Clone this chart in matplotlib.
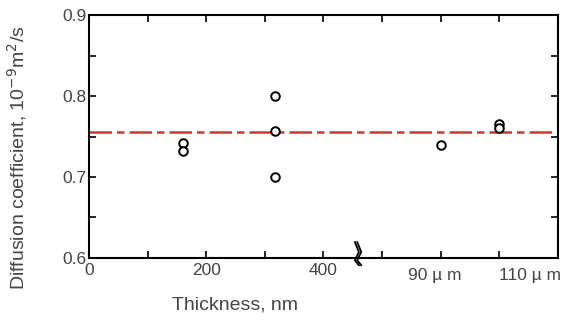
import numpy as np
import matplotlib
matplotlib.use("Agg")
import matplotlib.pyplot as plt
from matplotlib.ticker import MultipleLocator

# x is drawn on a continuous scale: nm up to the break, then the um samples
thin_x = [160, 160, 318, 318, 318]
thin_y = [0.742, 0.732, 0.800, 0.757, 0.700]
thick_x = [600, 700, 700]
thick_y = [0.740, 0.765, 0.760]
mean_D = 0.756

tick_pos = [0, 200, 400]
tick_lab = ["0", "200", "400"]
um_pos = [590, 752]
um_lab = ["90 \u00b5 m", "110 \u00b5 m"]
break_x = 457

plt.rcParams['font.family'] = ['Liberation Sans', 'DejaVu Sans']
txt = '#444444'

fig = plt.figure(figsize=(5.71, 3.22), dpi=100)
ax = fig.add_axes([0.156, 0.199, 0.821, 0.754])

ax.axhline(mean_D, color='#c43a32', lw=1.8, dashes=(9, 2, 3, 2), zorder=1)
ax.scatter(thin_x + thick_x, thin_y + thick_y, s=38, facecolors='white',
           edgecolors='black', linewidths=1.4, zorder=3)

ax.set_xlim(0, 800)
ax.set_ylim(0.6, 0.9)
ax.set_xticks(tick_pos)
ax.set_xticklabels(tick_lab)
ax.xaxis.set_minor_locator(MultipleLocator(100))
ax.yaxis.set_major_locator(MultipleLocator(0.1))
ax.yaxis.set_minor_locator(MultipleLocator(0.05))
ax.tick_params(which='both', direction='in', top=True, right=True,
               labelsize=12.5, labelcolor=txt, width=1.2)
ax.tick_params(which='both', length=5)
ax.tick_params(axis='y', pad=2)
ax.tick_params(axis='x', pad=4)
for s in ax.spines.values():
    s.set_linewidth(1.5)

for p, l in zip(um_pos, um_lab):
    ax.text(p, -0.04, l, transform=ax.get_xaxis_transform(), ha='center',
            va='top', fontsize=12.5, color=txt)

# axis break mark
bx = np.array([-2, 2, -2, 2])
by = np.array([0.065, 0.025, -0.01, -0.03])
for off in (0, 4):
    ax.plot(break_x + bx * 1.7 + off, by, transform=ax.get_xaxis_transform(),
            color='black', lw=1.3, clip_on=False, zorder=5)

ax.set_xlabel("Thickness, nm", fontsize=14, color=txt)
ax.xaxis.set_label_coords(0.311, -0.16)
ax.set_ylabel("Diffusion coefficient, 10$^{-9}$m$^2$/s", fontsize=14, color=txt)
ax.yaxis.set_label_coords(-0.128, 0.415)

fig.savefig("out.png", dpi=100)
